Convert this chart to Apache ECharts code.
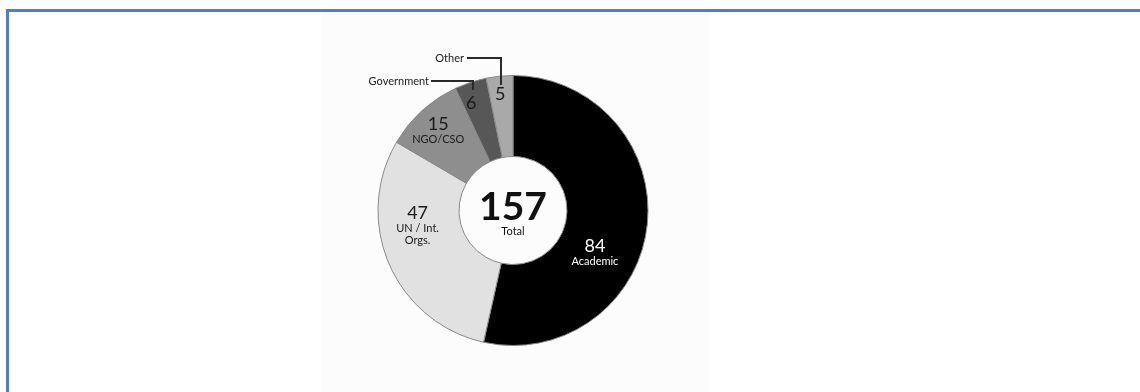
<!DOCTYPE html>
<html>
<head>
<meta charset="utf-8">
<script src="https://cdn.jsdelivr.net/npm/echarts@6/dist/echarts.min.js"></script>
<style>
  html, body { margin: 0; padding: 0; background: #ffffff; }
  #chart { width: 1140px; height: 392px; }
</style>
</head>
<body>
<div id="chart"></div>
<script>
// Participants by sector
const categories = ['Academic', 'UN / Int.\nOrgs.', 'NGO/CSO', 'Government', 'Other'];
const counts = [84, 47, 15, 6, 5];
const sliceColors = ['#000000', '#e1e1e1', '#8e8e8e', '#575757', '#a9a9a9'];
const labelColors = ['#ffffff', '#1a1a1a', '#1a1a1a', '#1a1a1a', '#1a1a1a'];
// sectors whose names sit outside the ring with a leader line
const outsideNames = ['Government', 'Other'];
const totalLabel = 'Total';

// nudges of the inside labels from their default spot
const labelNudge = [[-15, 31], [-6, -24], [-9, -8], [-11, -15], [-3, -19]];

const total = counts.reduce((a, b) => a + b, 0);
const FONT = 'Lato, "Open Sans", sans-serif';

const chart = echarts.init(document.getElementById('chart'), null, { renderer: 'canvas' });

const data = categories.map((name, i) => ({
  name: name,
  value: counts[i],
  itemStyle: { color: sliceColors[i] },
  label: {
    color: labelColors[i],
    formatter: outsideNames.includes(name) ? '{v|{c}}' : '{v|{c}}\n{n|{b}}'
  }
}));

chart.setOption({
  animation: false,
  backgroundColor: '#ffffff',
  graphic: [
    // page frame
    { type: 'rect', shape: { x: 321, y: 12, width: 388, height: 380 }, style: { fill: '#fcfcfc' }, silent: true, z: -10 },
    { type: 'rect', shape: { x: 6, y: 9, width: 1134, height: 3 }, style: { fill: '#4f81bd' }, z: 10 },
    { type: 'rect', shape: { x: 6, y: 9, width: 3, height: 383 }, style: { fill: '#4f81bd' }, z: 10 },
    // centre total
    { type: 'text', x: 513, y: 207, style: { text: String(total), font: 'bold 39px ' + FONT, fill: '#111111', align: 'center', verticalAlign: 'middle' }, z: 20 },
    { type: 'text', x: 513, y: 231, style: { text: totalLabel, font: '11px ' + FONT, fill: '#111111', align: 'center', verticalAlign: 'middle' }, z: 20 },
    // outside names with leader lines
    { type: 'text', x: 464, y: 58, style: { text: outsideNames[1], font: '11px ' + FONT, fill: '#222222', align: 'right', verticalAlign: 'middle' }, z: 20 },
    { type: 'polyline', shape: { points: [[467, 58], [501, 58], [501, 85]] }, style: { stroke: '#2a2a2a', lineWidth: 2, fill: null }, z: 20 },
    { type: 'text', x: 429, y: 81, style: { text: outsideNames[0], font: '11px ' + FONT, fill: '#222222', align: 'right', verticalAlign: 'middle' }, z: 20 },
    { type: 'polyline', shape: { points: [[431, 81], [473, 81], [473, 90]] }, style: { stroke: '#2a2a2a', lineWidth: 2, fill: null }, z: 20 }
  ],
  series: [{
    type: 'pie',
    center: [513, 210.5],
    radius: [54, 135],
    startAngle: 90,
    clockwise: true,
    avoidLabelOverlap: false,
    itemStyle: { borderColor: '#8a8a8a', borderWidth: 1 },
    label: {
      show: true,
      position: 'inside',
      lineHeight: 14,
      rich: {
        v: { fontFamily: FONT, fontSize: 18, lineHeight: 18 },
        n: { fontFamily: FONT, fontSize: 11, lineHeight: 12 }
      }
    },
    labelLine: { show: false },
    labelLayout: function (p) {
      const d = labelNudge[p.dataIndex];
      return { dx: d[0], dy: d[1] };
    },
    emphasis: { disabled: true },
    data: data
  }]
});
</script>
</body>
</html>
